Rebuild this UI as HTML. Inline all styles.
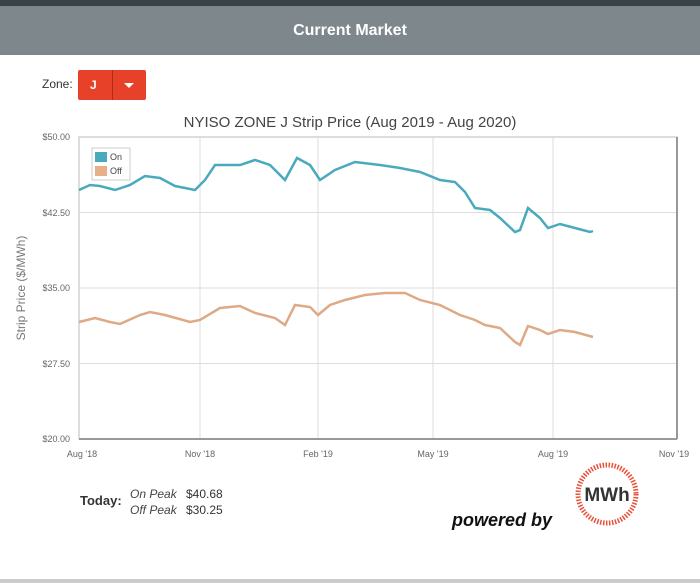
<!DOCTYPE html><html><head><style>
body{margin:0;width:700px;height:583px;background:#fff;font-family:"Liberation Sans",sans-serif;position:relative;overflow:hidden}
.top{position:absolute;left:0;top:0;width:700px;height:6px;background:#3a4147}
.hdr{position:absolute;left:0;top:6px;width:700px;height:49px;background:#7e878c;color:#fff;font-weight:bold;font-size:16px;text-align:center;line-height:49px}
.zl{position:absolute;left:42px;top:77px;font-size:12px;color:#333}
.zb{position:absolute;left:78px;top:70px;width:68px;height:30px;background:#e8412a;border-radius:2px}
.zb span{position:absolute;color:#fff;font-weight:bold;font-size:12px;top:8px;left:12px}
.zb i{position:absolute;left:34px;top:0;width:1px;height:30px;background:#b02b1a}
.zb b{position:absolute;left:46px;top:13px;border-left:5px solid transparent;border-right:5px solid transparent;border-top:5px solid #fff}
.bot{position:absolute;left:0;top:579px;width:700px;height:4px;background:#ccc}
</style></head><body>
<div class="top"></div><div class="hdr">Current Market</div>
<div class="zl">Zone:</div>
<div class="zb"><span>J</span><i></i><b></b></div>
<svg width="700" height="583" style="position:absolute;left:0;top:0" font-family="Liberation Sans, sans-serif">
<text x="350" y="127" text-anchor="middle" font-size="15" fill="#444">NYISO ZONE J Strip Price (Aug 2019 - Aug 2020)</text>
<rect x="79" y="137" width="598" height="302" fill="#fff" stroke="#bbb"/>
<g stroke="#ddd" stroke-width="1">
<line x1="79" y1="212.5" x2="677" y2="212.5"/><line x1="79" y1="288" x2="677" y2="288"/><line x1="79" y1="363.5" x2="677" y2="363.5"/>
<line x1="200" y1="137" x2="200" y2="439"/><line x1="318" y1="137" x2="318" y2="439"/><line x1="433" y1="137" x2="433" y2="439"/><line x1="553" y1="137" x2="553" y2="439"/>
</g>
<line x1="79" y1="439" x2="677" y2="439" stroke="#999" stroke-width="2"/>
<line x1="677" y1="137" x2="677" y2="439" stroke="#999" stroke-width="2"/>
<g font-size="9" fill="#666" text-anchor="end">
<text x="70" y="140">$50.00</text><text x="70" y="216">$42.50</text><text x="70" y="291">$35.00</text><text x="70" y="367">$27.50</text><text x="70" y="442">$20.00</text>
</g>
<g font-size="9" fill="#666" text-anchor="middle">
<text x="82" y="457">Aug '18</text><text x="200" y="457">Nov '18</text><text x="318" y="457">Feb '19</text><text x="433" y="457">May '19</text><text x="553" y="457">Aug '19</text><text x="674" y="457">Nov '19</text>
</g>
<text transform="translate(25,288) rotate(-90)" text-anchor="middle" font-size="12" fill="#777">Strip Price ($/MWh)</text>
<polyline fill="none" stroke="#4aaabd" stroke-width="2.5" points="79,190 90,185 100,186 115,190 130,185 145,176 160,178 175,186 195,190 205,180 215,165 240,165 255,160 270,165 285,180 297,158 310,165 320,180 335,170 355,162 380,165 400,168 420,172 440,180 455,182 465,192 475,208 490,210 500,218 515,232 520,230 528,208 540,218 548,228 560,224 575,228 590,232 593,231"/>
<polyline fill="none" stroke="#deaa85" stroke-width="2.5" points="79,322 95,318 110,322 120,324 140,315 150,312 165,315 190,322 200,320 220,308 240,306 255,313 275,318 285,325 295,305 310,307 318,315 330,305 345,300 365,295 385,293 405,293 420,300 440,305 460,315 475,320 485,325 500,328 515,342 520,345 528,326 540,330 548,334 560,330 575,332 593,337"/>
<rect x="92" y="148" width="38" height="32" fill="#fff" stroke="#ccc"/>
<rect x="95" y="152" width="12" height="10" fill="#4aaabd"/><text x="110" y="160" font-size="9" fill="#444">On</text>
<rect x="95" y="166" width="12" height="10" fill="#e8b08a"/><text x="110" y="174" font-size="9" fill="#444">Off</text>
<text x="80" y="505" font-size="13" font-weight="bold" fill="#333">Today:</text>
<text x="130" y="498" font-size="12" font-style="italic" fill="#444">On Peak</text>
<text x="130" y="514" font-size="12" font-style="italic" fill="#444">Off Peak</text>
<text x="186" y="498" font-size="12" fill="#333">$40.68</text>
<text x="186" y="514" font-size="12" fill="#333">$30.25</text>
<text x="452" y="526" font-size="18" font-weight="bold" font-style="italic" fill="#111">powered by</text>
<circle cx="607" cy="494" r="29" fill="none" stroke="#e8503a" stroke-width="5" stroke-dasharray="1.5 1.5"/>
<text x="607" y="501" font-size="19" font-weight="bold" fill="#333" text-anchor="middle">MWh</text>
</svg>
<div class="bot"></div>
</body></html>
